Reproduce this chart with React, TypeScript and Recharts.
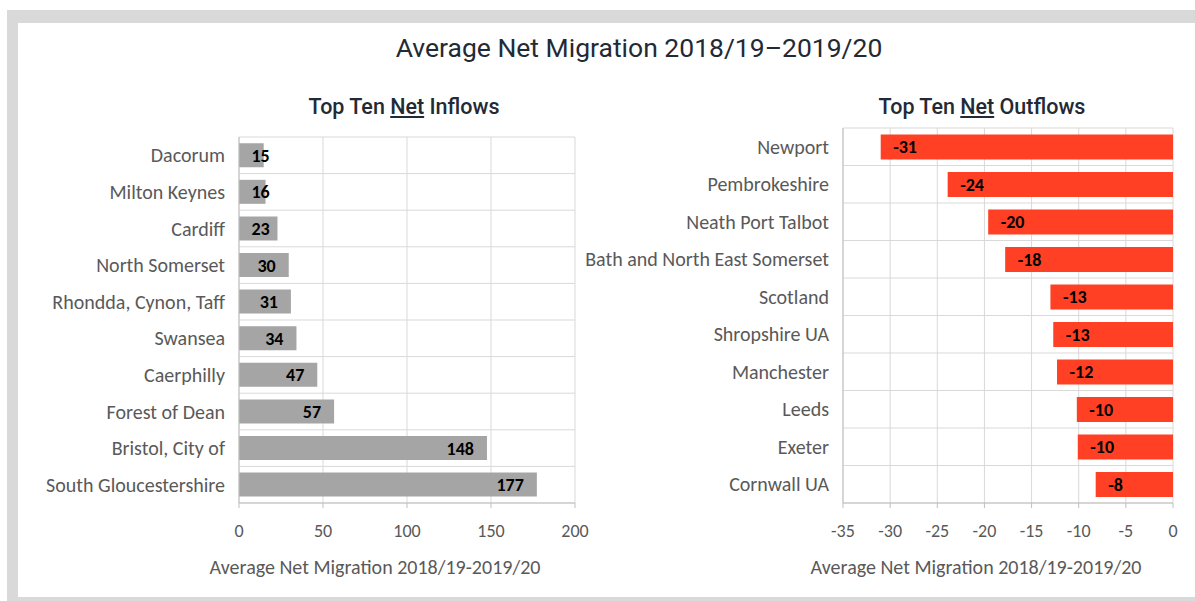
import React from 'react';
import { BarChart, Bar, XAxis, YAxis, CartesianGrid, LabelList } from 'recharts';

const inflowPlaces = ['Dacorum', 'Milton Keynes', 'Cardiff', 'North Somerset', 'Rhondda, Cynon, Taff', 'Swansea', 'Caerphilly', 'Forest of Dean', 'Bristol, City of', 'South Gloucestershire'];
const inflowValues = [14.7, 15.8, 22.9, 29.6, 30.9, 34.2, 46.6, 56.6, 147.6, 177.3];
const outflowPlaces = ['Newport', 'Pembrokeshire', 'Neath Port Talbot', 'Bath and North East Somerset', 'Scotland', 'Shropshire UA', 'Manchester', 'Leeds', 'Exeter', 'Cornwall UA'];
const outflowValues = [-31.0, -23.9, -19.6, -17.8, -13.0, -12.7, -12.3, -10.2, -10.1, -8.2];
const inflowTicks = [0, 50, 100, 150, 200];
const outflowTicks = [-35, -30, -25, -20, -15, -10, -5, 0];

const mainTitle = 'Average Net Migration 2018/19–2019/20';
const axisTitle = 'Average Net Migration 2018/19-2019/20';

const inflowData = inflowPlaces.map((name, i) => ({ name, value: inflowValues[i] }));
const outflowData = outflowPlaces.map((name, i) => ({ name, value: outflowValues[i] }));

const TEXT_FONT = 'Carlito, Lato, sans-serif';
const TITLE_FONT = 'Roboto, sans-serif';
const GRID = '#d9d9d9';
const AXIS = '#bfbfbf';
const LABEL_GRAY = '#595959';

const bandLines = ({ offset }: any) => {
  const n = 10;
  const out: number[] = [];
  for (let i = 0; i <= n; i++) out.push(offset.top + (i * offset.height) / n);
  return out;
};

const inflowLabel = (props: any) => {
  const { x, y, width, height, value } = props;
  const left = Math.min(x, x + width);
  const right = Math.max(x, x + width);
  const text = String(Math.round(value));
  const tw = text.length * 10.2;
  let tx = right - 13;
  let anchor: 'end' | 'start' = 'end';
  if (tx - tw < left + 12.5) {
    tx = left + 12.5;
    anchor = 'start';
  }
  return (
    <text x={tx} y={y + height / 2} dy="0.36em" textAnchor={anchor} fontFamily={TEXT_FONT} fontSize={18} fontWeight={700} fill="#000">
      {text}
    </text>
  );
};

const outflowLabel = (props: any) => {
  const { x, y, width, height, value } = props;
  const left = Math.min(x, x + width);
  const text = String(Math.round(value));
  return (
    <text x={left + 12.5} y={y + height / 2} dy="0.36em" textAnchor="start" fontFamily={TEXT_FONT} fontSize={18} fontWeight={700} fill="#000">
      {text}
    </text>
  );
};

const catTickStyle = { fontFamily: TEXT_FONT, fontSize: 20, fill: LABEL_GRAY };
const numTickStyle = { fontFamily: TEXT_FONT, fontSize: 18, fill: LABEL_GRAY };

const subtitleStyle: React.CSSProperties = { position: 'absolute', top: 96, width: 400, textAlign: 'center', fontFamily: TITLE_FONT, fontSize: 21.5, lineHeight: '21px', fontWeight: 500, color: '#222a35', whiteSpace: 'nowrap' };
const axisTitleStyle: React.CSSProperties = { position: 'absolute', top: 555, width: 400, textAlign: 'center', fontFamily: TEXT_FONT, fontSize: 20, lineHeight: '24px', color: LABEL_GRAY, whiteSpace: 'nowrap' };

export default function App() {
  return (
    <div style={{ position: 'absolute', left: 0, top: 0, width: 1195, height: 601, overflow: 'hidden', background: '#fff' }}>
      <div style={{ position: 'absolute', left: 7, top: 10, width: 1220, height: 611, boxSizing: 'border-box', borderLeft: '11px solid #d9d9d9', borderTop: '13px solid #d9d9d9', borderRight: '11px solid #d9d9d9', borderBottom: '24px solid #d9d9d9', background: '#fff' }} />
      <div style={{ position: 'absolute', left: 0, top: 34, width: 1278, textAlign: 'center', fontFamily: TITLE_FONT, fontSize: 26.5, lineHeight: '27px', fontWeight: 400, color: '#222a35', whiteSpace: 'nowrap' }}>
        {mainTitle}
      </div>
      <div style={{ ...subtitleStyle, left: 204 }}>
        Top Ten <span style={{ textDecoration: 'underline' }}>Net</span> Inflows
      </div>
      <div style={{ ...subtitleStyle, left: 782 }}>
        Top Ten <span style={{ textDecoration: 'underline' }}>Net</span> Outflows
      </div>

      <div style={{ position: 'absolute', left: 0, top: 0 }}>
        <BarChart width={600} height={601} data={inflowData} layout="vertical" margin={{ top: 137, right: 25, bottom: 38, left: 0 }} barCategoryGap="17%">
          <CartesianGrid stroke={GRID} horizontalCoordinatesGenerator={bandLines} />
          <XAxis type="number" domain={[0, 200]} ticks={inflowTicks} interval={0} stroke={AXIS} tickSize={5} tickMargin={16} tick={numTickStyle} height={60} />
          <YAxis type="category" dataKey="name" width={239} stroke={AXIS} tickLine={false} tickMargin={8} tick={catTickStyle} interval={0} />
          <Bar dataKey="value" fill="#a5a5a5" isAnimationActive={false}>
            <LabelList dataKey="value" content={inflowLabel} />
          </Bar>
        </BarChart>
      </div>
      <div style={{ position: 'absolute', left: 560, top: 0 }}>
        <BarChart width={635} height={601} data={outflowData} layout="vertical" margin={{ top: 128, right: 22, bottom: 38, left: 0 }} barCategoryGap="17%">
          <CartesianGrid stroke={GRID} horizontalCoordinatesGenerator={bandLines} />
          <XAxis type="number" domain={[-35, 0]} ticks={outflowTicks} interval={0} stroke={AXIS} tickSize={5} tickMargin={16} tick={numTickStyle} height={60} />
          <YAxis type="category" dataKey="name" width={283} stroke={AXIS} tickLine={false} tickMargin={8} tick={catTickStyle} interval={0} />
          <Bar dataKey="value" fill="#ff4024" isAnimationActive={false}>
            <LabelList dataKey="value" content={outflowLabel} />
          </Bar>
        </BarChart>
      </div>

      <div style={{ ...axisTitleStyle, left: 175 }}>{axisTitle}</div>
      <div style={{ ...axisTitleStyle, left: 776 }}>{axisTitle}</div>
    </div>
  );
}
